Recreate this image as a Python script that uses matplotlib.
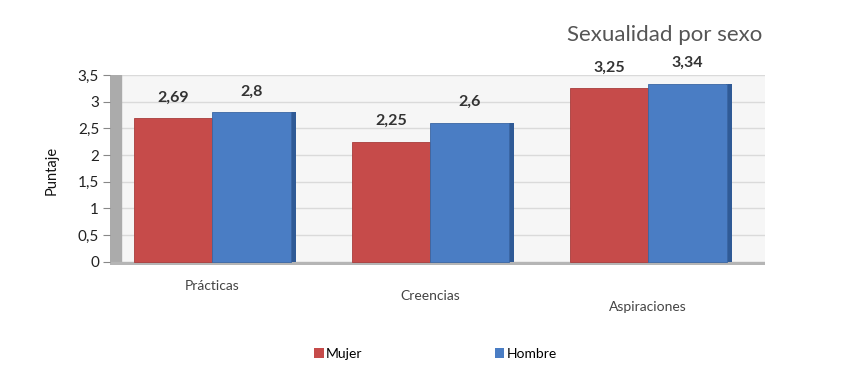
import numpy as np
import matplotlib.pyplot as plt
from matplotlib.patches import Patch

plt.rcParams['font.family'] = ['Lato', 'DejaVu Sans']

# Datos
categorias = ['Prácticas', 'Creencias', 'Aspiraciones']
mujer = [2.69, 2.25, 3.25]
hombre = [2.80, 2.60, 3.34]
etiquetas_mujer = ['2,69', '2,25', '3,25']
etiquetas_hombre = ['2,8', '2,6', '3,34']
ticks_y = [0, 0.5, 1, 1.5, 2, 2.5, 3, 3.5]
ticks_y_txt = ['0', '0,5', '1', '1,5', '2', '2,5', '3', '3,5']

rojo = '#C64B4A'
azul = '#4A7DC4'

fig = plt.figure(figsize=(8.54, 3.9), dpi=100)
ax = fig.add_axes([0.129, 0.3205, 0.767, 0.487])

x = np.arange(len(categorias))
ancho = 0.36
xmin, xmax = -0.468, 2.537
ax.set_xlim(xmin, xmax)
ax.set_ylim(-0.06, 3.5)

# fondo, pared y piso
ax.set_facecolor('#F6F6F6')
ax.axvspan(xmin, xmin + 0.05, color='#ABABAB', zorder=1)
ax.axhspan(-0.06, 0, color='#B5B5B5', zorder=1)
ax.hlines(ticks_y[1:], xmin + 0.05, xmax, color='#DADADA', lw=1, zorder=0.5)

b1 = ax.bar(x - ancho / 2, mujer, ancho, color=rojo, edgecolor='#A83C3B', lw=0.6, zorder=3)
b2 = ax.bar(x + ancho / 2, hombre, ancho, color=azul, edgecolor='#3A66A3', lw=0.6, zorder=3)

# caras laterales para dar algo de volumen
ax.bar(x + ancho + 0.012, hombre, 0.025, color='#2F5A96', zorder=2)

for rects, txts in [(b1, etiquetas_mujer), (b2, etiquetas_hombre)]:
    for r, t in zip(rects, txts):
        ax.annotate(t, (r.get_x() + r.get_width() / 2, r.get_height()),
                    xytext=(0, 10), textcoords='offset points',
                    ha='center', va='bottom', fontsize=11.5, fontweight='bold',
                    color='#333333')

ax.set_yticks(ticks_y)
ax.set_yticklabels(ticks_y_txt, fontsize=11, color='#222222')
ax.tick_params(axis='y', length=5, color='#888888', pad=3)
ax.set_xticks([])
for s in ax.spines.values():
    s.set_visible(False)

# etiquetas de categoria escalonadas (perspectiva)
desfases = [-0.08, -0.13, -0.19]
for xi, cat, d in zip(x, categorias, desfases):
    ax.text(xi, d, cat, transform=ax.get_xaxis_transform(), ha='center',
            va='top', fontsize=10, color='#444444')

ax.set_ylabel('Puntaje', fontsize=10.5, color='#111111', labelpad=14)

fig.text(0.892, 0.91, 'Sexualidad por sexo', ha='right', va='center',
         fontsize=16, color='#555555')

handles = [Patch(facecolor=rojo), Patch(facecolor=azul)]
fig.legend(handles, ['Mujer', 'Hombre'], loc='center', bbox_to_anchor=(0.51, 0.092),
           ncol=2, frameon=False, fontsize=10, handlelength=0.7, handleheight=0.7,
           handletextpad=0.15, columnspacing=9.5)

fig.savefig('out.png', dpi=100, facecolor='white')
